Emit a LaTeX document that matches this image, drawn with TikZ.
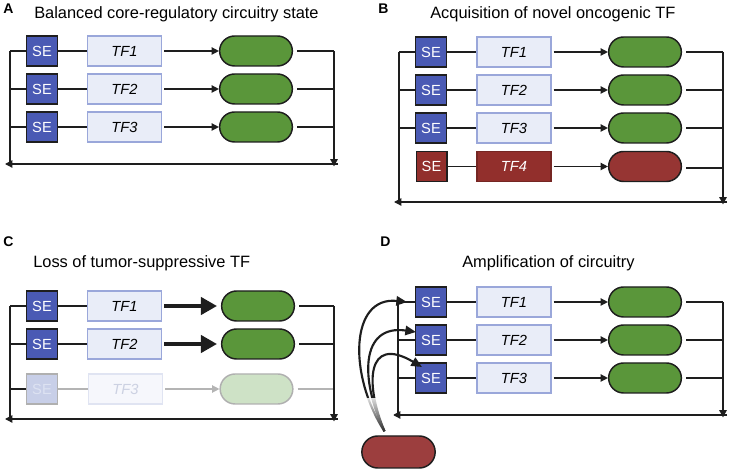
\documentclass[tikz,border=0pt]{standalone}
\usepackage{fontspec}
\setmainfont{Liberation Sans}
\usetikzlibrary{arrows.meta,fadings}
\definecolor{seblue}{HTML}{4A5AB4}
\definecolor{tffill}{HTML}{E9EDF8}
\definecolor{tfborder}{HTML}{9AA7DA}
\definecolor{pillgreen}{HTML}{5A963A}
\definecolor{darkred}{HTML}{922F2C}
\definecolor{pillred}{HTML}{963533}
\definecolor{pillredD}{HTML}{9C3E3E}
\definecolor{fadese}{HTML}{C8CFE8}
\definecolor{fadeseborder}{HTML}{B0B0B0}
\definecolor{fadesetext}{HTML}{DDE2F2}
\definecolor{fadetf}{HTML}{F6F7FC}
\definecolor{fadetfborder}{HTML}{E0E4F2}
\definecolor{fadetftext}{HTML}{CCD1E2}
\definecolor{fadepill}{HTML}{CEE2C6}
\definecolor{fadeline}{HTML}{B4B4B4}
\definecolor{linecol}{HTML}{1E1E1E}
\begin{document}
\begin{tikzpicture}[x=0.75pt,y=-0.75pt,
  sebox/.style={draw=linecol, line width=1pt, fill=seblue, text=white, minimum width=23pt, minimum height=22.5pt, inner sep=0pt, font=\fontsize{11}{12}\selectfont},
  tfbox/.style={draw=tfborder, line width=0.9pt, fill=tffill, minimum width=55.5pt, minimum height=22.5pt, inner sep=0pt, font=\fontsize{11}{12}\selectfont\itshape},
  pill/.style={draw=linecol, line width=1.1pt, fill=pillgreen, minimum width=54.5pt, minimum height=22.5pt, inner sep=0pt, rounded corners=11.2pt},
  conn/.style={line width=1pt, draw=linecol},
  arr/.style={conn, -{Triangle[length=5.5pt,width=5.5pt]}},
  thickarr/.style={line width=2.4pt, draw=linecol, -{Triangle[length=12pt,width=13pt]}},
  curvearr/.style={line width=1.6pt, draw=linecol, -{Triangle[length=8pt,width=7pt]}},
  title/.style={anchor=base west, inner sep=0pt, font=\fontsize{12.3}{14}\selectfont},
  letter/.style={anchor=base west, inner sep=0pt, font=\fontsize{10.5}{12}\selectfont\bfseries}
]
\useasboundingbox (0,0) rectangle (729,470);

% ---------------- Panel A ----------------
\node[letter] (la) at (3,13.5) {A};
\node[title] (ta) at (34,18.3) {Balanced core-regulatory circuitry state};
\foreach \i/\y in {1/51,2/89,3/127} {
  \node[sebox] (aS\i) at (42,\y) {SE};
  \node[tfbox] (aT\i) at (124.5,\y) {TF\i};
  \node[pill] (aP\i) at (256,\y) {};
  \coordinate (aL\i) at (10,\y);
  \coordinate (aR\i) at (334,\y);
  \draw[conn] (aS\i) -- (aT\i);
  \draw[arr, shorten <=1.5pt] (aT\i) -- (aP\i);
  \draw[conn] (aL\i) -- (aS\i);
  \draw[conn, shorten <=3pt] (aP\i) -- (aR\i);
}
\coordinate (aRB) at (334,166.5);
\coordinate (aBR) at (338,164);
\coordinate (aBL) at (5,164);
\coordinate (aLB) at (10,164);
\draw[arr] (aR1) -- (aRB);
\draw[arr] (aBR) -- (aBL);
\draw[conn] (aLB) -- (aL1);

% ---------------- Panel B ----------------
\node[letter] (lb) at (378,13.5) {B};
\node[title] (tb) at (430,18.3) {Acquisition of novel oncogenic TF};
\foreach \i/\y in {1/52,2/90,3/128} {
  \node[sebox] (bS\i) at (431,\y) {SE};
  \node[tfbox] (bT\i) at (514,\y) {TF\i};
  \node[pill] (bP\i) at (645,\y) {};
  \coordinate (bL\i) at (399,\y);
  \coordinate (bR\i) at (723,\y);
  \draw[conn] (bS\i) -- (bT\i);
  \draw[arr, shorten <=1.5pt] (bT\i) -- (bP\i);
  \draw[conn] (bL\i) -- (bS\i);
  \draw[conn, shorten <=3pt] (bP\i) -- (bR\i);
}
\node[sebox, fill=darkred] (bS4) at (431.5,166.5) {SE};
\node[tfbox, fill=darkred, draw=darkred!80!black, text=white] (bT4) at (514,166.5) {TF4};
\node[pill, fill=pillred] (bP4) at (645,166.5) {};
\coordinate (bR4) at (723,168);
\draw[conn] (bS4) -- (bT4);
\draw[arr, shorten <=1.5pt] (bT4) -- (bP4);
\draw[conn, shorten <=3pt] (bP4.east |- bR4) -- (bR4);
\coordinate (bRB) at (723,204.5);
\coordinate (bBR) at (727,202);
\coordinate (bBL) at (394,202);
\coordinate (bLB) at (399,202);
\draw[arr] (bR1) -- (bRB);
\draw[arr] (bBR) -- (bBL);
\draw[conn] (bLB) -- (bL1);

% ---------------- Panel C ----------------
\node[letter] (lc) at (3,247) {C};
\node[title] (tc) at (33,268) {Loss of tumor-suppressive TF};
\foreach \i/\y in {1/306,2/344} {
  \node[sebox] (cS\i) at (42,\y) {SE};
  \node[tfbox] (cT\i) at (124.5,\y) {TF\i};
  \node[pill] (cP\i) at (258,\y) {};
  \coordinate (cL\i) at (10,\y);
  \coordinate (cR\i) at (334,\y);
  \draw[conn] (cS\i) -- (cT\i);
  \draw[thickarr, shorten <=1.5pt, shorten >=3pt] (cT\i) -- (cP\i);
  \draw[conn] (cL\i) -- (cS\i);
  \draw[conn, shorten <=3pt] (cP\i) -- (cR\i);
}
\node[sebox, fill=fadese, draw=fadeseborder, text=fadesetext] (cS3) at (42,389) {SE};
\node[tfbox, fill=fadetf, draw=fadetfborder, text=fadetftext] (cT3) at (125.5,389) {TF3};
\node[pill, fill=fadepill, draw=fadeseborder] (cP3) at (256.5,389) {};
\coordinate (cL3) at (10,389);
\coordinate (cR3) at (334,389);
\draw[conn, draw=fadeline] (cS3) -- (cT3);
\draw[conn, draw=fadeline, -{Triangle[length=5.5pt,width=5.5pt]}, shorten <=1.5pt] (cT3) -- (cP3);
\draw[conn] (cL3) -- (cS3);
\draw[conn, draw=fadeline, shorten <=3pt] (cP3) -- (cR3);
\coordinate (cRB) at (334,421.5);
\coordinate (cBR) at (338,419);
\coordinate (cBL) at (5,419);
\coordinate (cLB) at (10,419);
\draw[arr] (cR1) -- (cRB);
\draw[arr] (cBR) -- (cBL);
\draw[conn] (cLB) -- (cL1);

% ---------------- Panel D ----------------
\node[letter] (ld) at (380,247) {D};
\node[title] (td) at (462,268) {Amplification of circuitry};
\foreach \i/\y in {1/302,2/340,3/378} {
  \node[sebox] (dS\i) at (431,\y) {SE};
  \node[tfbox] (dT\i) at (514,\y) {TF\i};
  \node[pill] (dP\i) at (645,\y) {};
  \coordinate (dL\i) at (398,\y);
  \coordinate (dR\i) at (723,\y);
  \draw[conn] (dS\i) -- (dT\i);
  \draw[arr, shorten <=1.5pt] (dT\i) -- (dP\i);
  \draw[conn] (dL\i) -- (dS\i);
  \draw[conn, shorten <=3pt] (dP\i) -- (dR\i);
}
\coordinate (dRB) at (723,417.5);
\coordinate (dBR) at (727,415);
\coordinate (dBL) at (393,415);
\coordinate (dLB) at (398,415);
\draw[arr] (dR1) -- (dRB);
\draw[arr] (dBR) -- (dBL);
\draw[conn] (dLB) -- (dL1);

\node[pill, fill=pillredD, minimum width=55pt, minimum height=24pt, rounded corners=12pt] (dRed) at (398.5,452) {};
\coordinate (dC1) at (407,302);
\coordinate (dC2) at (416,332);
\coordinate (dC3) at (422,367);
\draw[curvearr] (dRed.north) ++(-14,-4) coordinate (dst1) .. controls (348,375) and (350,296) .. (dC1);
\draw[curvearr] (dst1) .. controls (360,380) and (360,324) .. (dC2);
\draw[curvearr] (dst1) .. controls (365,385) and (366,334) .. (dC3);
\fill[white, path fading=south, fill opacity=0.85] (350,398) rectangle (394,434);
\end{tikzpicture}
\end{document}
